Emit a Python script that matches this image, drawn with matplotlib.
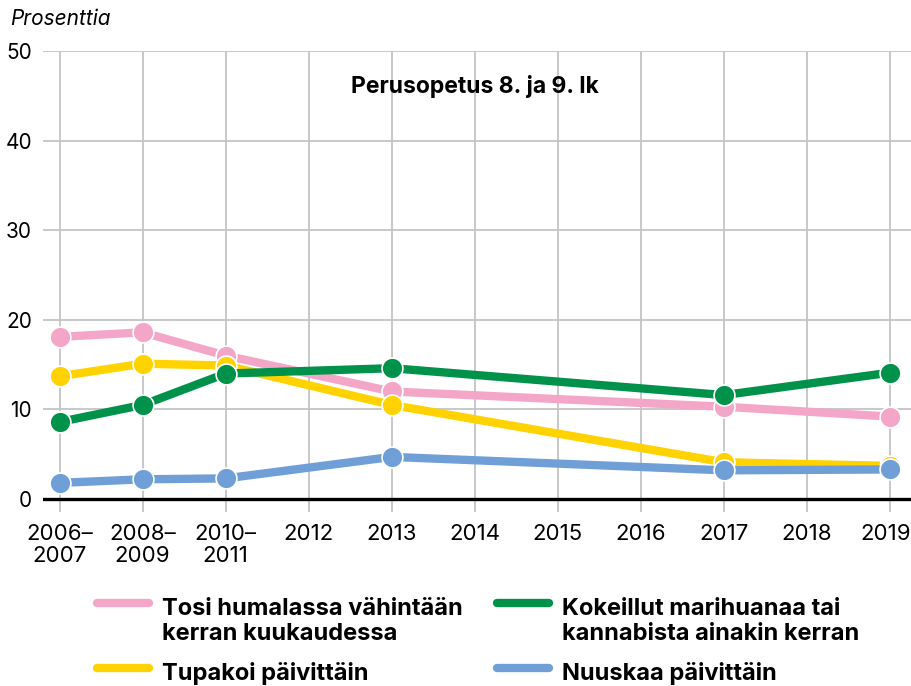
import matplotlib
matplotlib.use("Agg")
import matplotlib.pyplot as plt
from matplotlib.lines import Line2D
from matplotlib.transforms import ScaledTranslation

# data (None = no survey that year)
years = ["2006–\n2007", "2008–\n2009", "2010–\n2011", "2012", "2013", "2014",
         "2015", "2016", "2017", "2018", "2019"]
humala = [18.1, 18.6, 16.0, None, 12.0, None, None, None, 10.3, None, 9.2]
tupakka = [13.7, 15.1, 14.9, None, 10.5, None, None, None, 4.1, None, 3.7]
kannabis = [8.6, 10.5, 14.0, None, 14.6, None, None, None, 11.6, None, 14.1]
nuuska = [1.8, 2.2, 2.3, None, 4.7, None, None, None, 3.2, None, 3.3]

labels = [["Tosi humalassa vähintään", "kerran kuukaudessa"],
          ["Tupakoi päivittäin"],
          ["Kokeillut marihuanaa tai", "kannabista ainakin kerran"],
          ["Nuuskaa päivittäin"]]
colors = ["#f4a6c8", "#ffd200", "#00924a", "#6f9fd6"]

plt.rcParams["font.family"] = ["Inter", "DejaVu Sans"]

W, H = 912, 686
fig = plt.figure(figsize=(W / 100, H / 100), dpi=100)
ax = fig.add_axes([43 / W, 1 - 512 / H, 1 - 43 / W, (512 - 51) / H])

for series, col in zip([humala, tupakka, kannabis, nuuska], colors):
    xs = [i for i, v in enumerate(series) if v is not None]
    ys = [v for v in series if v is not None]
    ax.plot(xs, ys, color=col, lw=6, marker="o", ms=15, mec="white", mew=1.2,
            solid_capstyle="round", solid_joinstyle="round", zorder=3)

ax.set_xlim(-0.2, (W - 60) / 83)
ax.set_ylim(-1.45, 50)
ax.set_yticks([0, 10, 20, 30, 40, 50])
ax.set_xticks(range(len(years)))
ax.set_xticklabels(years, fontsize=16, linespacing=1.08)
for t in ax.get_yticklabels():
    t.set_fontsize(15)
ax.tick_params(length=0)
ax.tick_params(axis="x", pad=9)
ax.tick_params(axis="y", pad=8)
for s in ax.spines.values():
    s.set_visible(False)

# keep the last year label inside the picture
last = ax.get_xticklabels()[-1]
last.set_transform(last.get_transform() + ScaledTranslation(-0.04, 0, fig.dpi_scale_trans))

# grid
for y in [10, 20, 30, 40, 50]:
    ax.axhline(y, color="#c4c4c4", lw=1.3, zorder=1)
for i in range(len(years)):
    ax.plot([i, i], [-1.45, 50], color="#c4c4c4", lw=1.3, zorder=1)
ax.axhline(0, color="black", lw=2.4, zorder=2)

fig.text(475 / W, 1 - 93 / H, "Perusopetus 8. ja 9. lk", ha="center",
         va="baseline", fontsize=16.5, fontweight="bold")
fig.text(10 / W, 1 - 25 / H, "Prosenttia", fontsize=15, style="italic",
         va="baseline", ha="left")

# legend drawn by hand so that handles align with the first text line
leg = [(97, 603, 615, 0), (497, 603, 615, 2), (97, 668, 680, 1), (497, 668, 680, 3)]
for x0, yh, yb, k in leg:
    fy = 1 - yh / H
    fig.add_artist(Line2D([x0 / W, (x0 + 52) / W], [fy, fy], color=colors[k],
                          lw=6, solid_capstyle="round", transform=fig.transFigure))
    for j, line in enumerate(labels[k]):
        fig.text((x0 + 65) / W, 1 - (yb + 25 * j) / H, line, fontsize=17,
                 fontweight="bold", va="baseline", ha="left")

fig.savefig("out.png", dpi=100)
